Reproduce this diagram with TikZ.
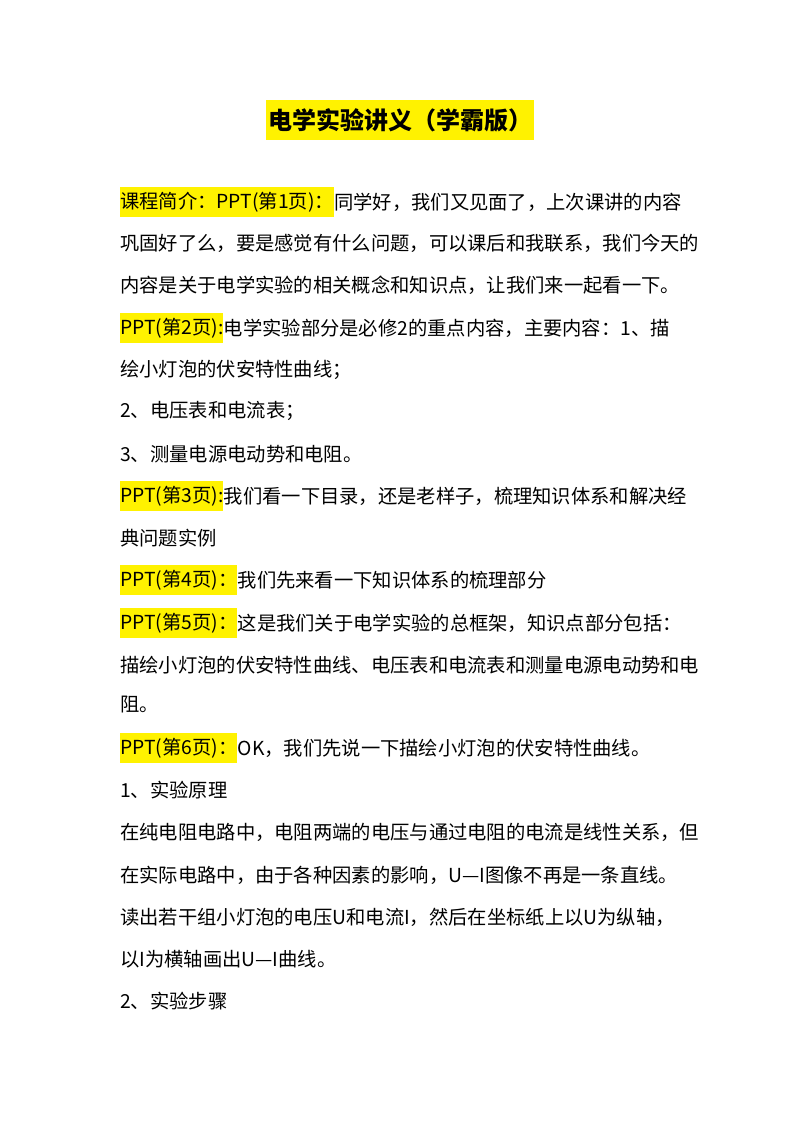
\documentclass[tikz,border=0pt]{standalone}
\usepackage{fontspec}
\setmainfont{Noto Sans CJK SC}
\begin{document}
\begin{tikzpicture}[x=1pt,y=-1pt,
 txt/.style={anchor=west,inner sep=0pt,minimum height=30pt,font=\fontsize{19.3}{20}\selectfont},
 hl/.style={txt,fill=yellow}]
\useasboundingbox (0,0) rectangle (800,1132);
\node[fill=yellow,inner xsep=2pt,minimum height=40pt,font=\bfseries\fontsize{24}{26}\selectfont] (title) at (400,120) {电学实验讲义（学霸版）};
\node[hl] (h1) at (120,202) {课程简介：PPT(第1页)：};
\node[txt] (t1) at (h1.east) {同学好，我们又见面了，上次课讲的内容};
\node[txt] (t2) at (120,243) {巩固好了么，要是感觉有什么问题，可以课后和我联系，我们今天的};
\node[txt] (t3) at (120,285) {内容是关于电学实验的相关概念和知识点，让我们来一起看一下。};
\node[hl] (h4) at (120,328) {PPT(第2页):};
\node[txt] (t4) at (h4.east) {电学实验部分是必修2的重点内容，主要内容：1、描};
\node[txt] (t5) at (120,370) {绘小灯泡的伏安特性曲线；};
\node[txt] (t6) at (120,411) {2、电压表和电流表；};
\node[txt] (t7) at (120,454) {3、测量电源电动势和电阻。};
\node[hl] (h8) at (120,496) {PPT(第3页):};
\node[txt] (t8) at (h8.east) {我们看一下目录，还是老样子，梳理知识体系和解决经};
\node[txt] (t9) at (120,538) {典问题实例};
\node[hl] (h10) at (120,580) {PPT(第4页)：};
\node[txt] (t10) at (h10.east) {我们先来看一下知识体系的梳理部分};
\node[hl] (h11) at (120,623) {PPT(第5页)：};
\node[txt] (t11) at (h11.east) {这是我们关于电学实验的总框架，知识点部分包括：};
\node[txt] (t12) at (120,665) {描绘小灯泡的伏安特性曲线、电压表和电流表和测量电源电动势和电};
\node[txt] (t13) at (120,705) {阻。};
\node[hl] (h14) at (120,748) {PPT(第6页)：};
\node[txt] (t14) at (h14.east) {OK，我们先说一下描绘小灯泡的伏安特性曲线。};
\node[txt] (t15) at (120,790) {1、实验原理};
\node[txt] (t16) at (120,832) {在纯电阻电路中，电阻两端的电压与通过电阻的电流是线性关系，但};
\node[txt] (t17) at (120,875) {在实际电路中，由于各种因素的影响，U—I图像不再是一条直线。};
\node[txt] (t18) at (120,917) {读出若干组小灯泡的电压U和电流I，然后在坐标纸上以U为纵轴，};
\node[txt] (t19) at (120,959) {以I为横轴画出U—I曲线。};
\node[txt] (t20) at (120,1001) {2、实验步骤};
\end{tikzpicture}
\end{document}
